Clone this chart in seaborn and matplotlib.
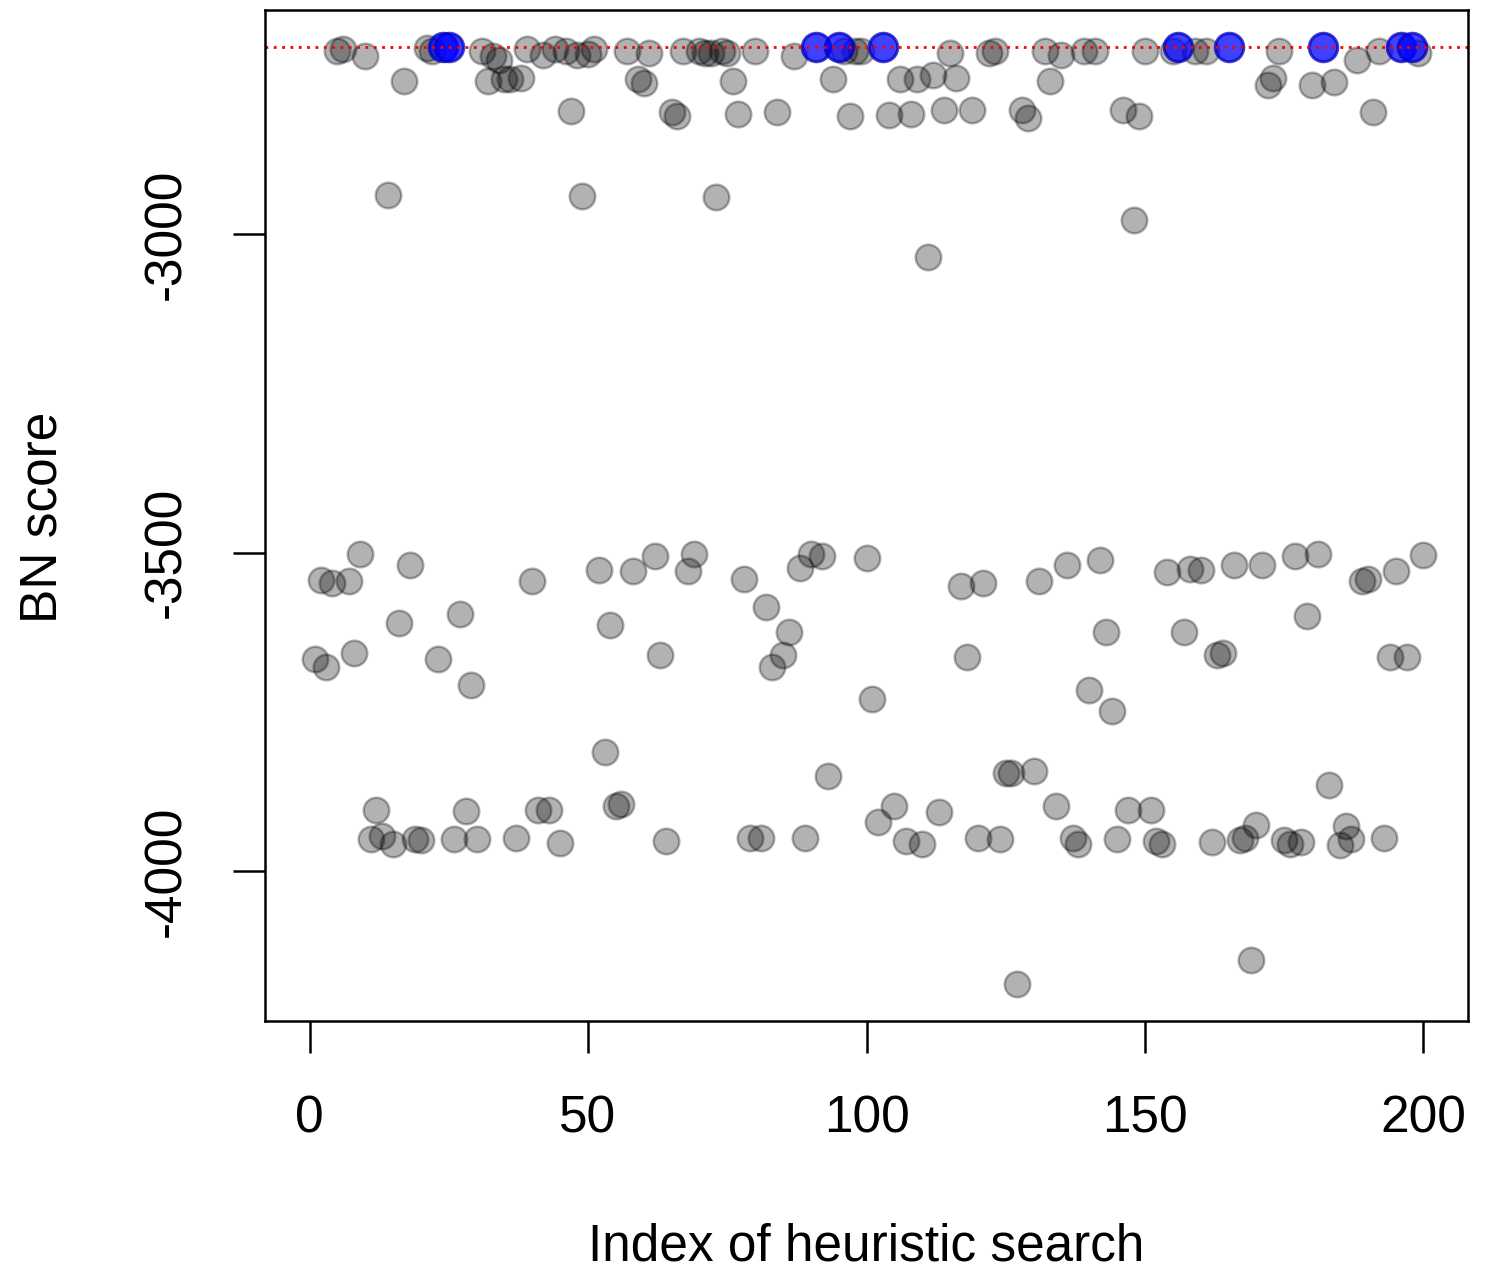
import numpy as np
import pandas as pd
import seaborn as sns
import matplotlib
matplotlib.use('Agg')
import matplotlib.pyplot as plt

# BN score of each heuristic search run (index 1..200)
search_index = list(range(1, 201))
bn_score = [
    -3666, -3542, -3679, -3547, -2713, -2710, -3544, -3657, -3502, -2721,
    -3950, -3904, -3945, -2939, -3957, -3611, -2759, -3520, -3950, -3951,
    -2708, -2713, -3666, -2707, -2707, -3950, -3596, -3906, -3708, -3950,
    -2712, -2760, -2721, -2726, -2757, -2757, -3947, -2755, -2710, -3545,
    -3903, -2719, -3903, -2710, -3956, -2712, -2807, -2719, -2940, -2718,
    -2710, -3527, -3813, -3614, -3898, -3895, -2713, -3528, -2757, -2763,
    -2715, -3505, -3660, -3953, -2809, -2815, -2712, -3528, -3502, -2713,
    -2715, -2715, -2942, -2712, -2716, -2760, -2812, -3541, -3947, -2713,
    -3948, -3585, -3680, -2809, -3661, -3625, -2721, -3524, -3947, -3502,
    -2707, -3505, -3851, -2757, -2707, -2713, -2815, -2712, -2712, -3509,
    -3729, -3923, -2707, -2813, -3898, -2757, -3953, -2812, -2757, -3957,
    -3036, -2751, -3907, -2806, -2716, -2755, -3552, -3663, -2806, -3947,
    -3547, -2715, -2712, -3950, -3846, -3845, -4176, -2806, -2817, -3843,
    -3545, -2712, -2760, -3898, -2719, -3520, -3948, -3957, -2713, -3716,
    -2713, -3511, -3625, -3749, -3950, -2806, -3904, -2978, -2815, -2713,
    -3904, -3953, -3957, -3531, -2712, -2707, -3625, -3525, -2713, -3527,
    -2713, -3954, -3660, -3657, -2707, -3520, -3951, -3948, -4139, -3928,
    -3520, -2766, -2755, -2713, -3951, -3957, -3505, -3954, -3599, -2766,
    -3502, -2707, -3865, -2762, -3959, -3929, -3950, -2726, -3545, -3541,
    -2809, -2712, -3947, -3663, -3528, -2707, -3663, -2707, -2716, -3503,
]

df = pd.DataFrame({'idx': search_index, 'score': bn_score})
best = df['score'].max()
df['best'] = df['score'] == best

sns.set_style('ticks')
plt.rcParams['font.family'] = ['Liberation Sans', 'DejaVu Sans']
plt.rcParams['text.color'] = 'black'
plt.rcParams['axes.labelcolor'] = 'black'

fig = plt.figure(figsize=(14.98, 12.77), dpi=100)
ax = fig.add_axes([0.1769, 0.2005, 0.8031, 0.7917])

sns.scatterplot(data=df[~df['best']], x='idx', y='score', ax=ax,
                color='black', alpha=0.3, edgecolor='black',
                linewidth=1.8, s=340, legend=False)
sns.scatterplot(data=df[df['best']], x='idx', y='score', ax=ax,
                color='blue', alpha=0.75, edgecolor='#0000c0',
                linewidth=2.2, s=420, legend=False)

ax.axhline(best, color='red', linestyle=(0, (1, 2)), linewidth=2)

rng = df['score'].max() - df['score'].min()
ax.set_ylim(df['score'].min() - 0.04 * rng, df['score'].max() + 0.04 * rng)
ax.set_xlim(-8, 208)

ax.set_xticks([0, 50, 100, 150, 200])
ax.set_yticks([-3000, -3500, -4000])
ax.set_yticklabels(['-3000', '-3500', '-4000'], rotation=90, va='center')
ax.tick_params(axis='both', length=23, width=1.8, pad=30, labelsize=37,
               color='black', labelcolor='black')

for sp in ax.spines.values():
    sp.set_visible(True)
    sp.set_linewidth(1.8)
    sp.set_color('black')

ax.set_xlabel('Index of heuristic search', fontsize=37, color='black')
ax.set_ylabel('BN score', fontsize=37, color='black')
ax.xaxis.set_label_coords(0.5, -0.2235)
ax.xaxis.label.set_va('center')
ax.yaxis.set_label_coords(-0.1845, 0.4985)
ax.yaxis.label.set_va('center')

fig.savefig('out.png', dpi=100, facecolor='white')
